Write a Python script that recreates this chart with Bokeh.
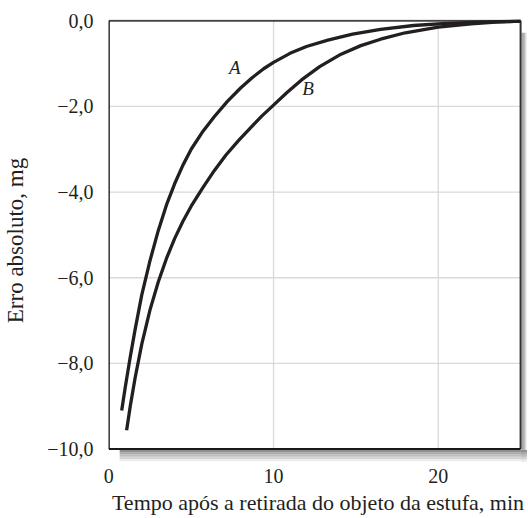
from bokeh.plotting import figure
from bokeh.models import Range1d, FixedTicker, Label
from bokeh.embed import file_html
from bokeh.resources import INLINE

# Curve A (time, absolute error)
time_a = [0.78, 1.0, 1.3, 1.6, 2.0, 2.5, 3.0, 3.5, 4.0, 4.5, 5.0, 5.66, 6.4, 7.2, 8.0,
          8.7, 9.4, 10.0, 11.0, 12.0, 13.3, 14.8, 16.5, 18.5, 20.5, 22.5, 25.0]
err_a = [-9.10, -8.55, -7.85, -7.2, -6.4, -5.6, -4.9, -4.3, -3.8, -3.37, -3.0, -2.61, -2.24,
         -1.88, -1.57, -1.33, -1.12, -0.97, -0.76, -0.60, -0.45, -0.31, -0.20, -0.11, -0.06,
         -0.03, -0.01]

# Curve B (time, absolute error)
time_b = [1.08, 1.3, 1.6, 2.0, 2.5, 3.0, 3.5, 4.0, 4.5, 5.0, 5.7, 6.4, 7.1, 7.87, 8.6, 9.3,
          10.0, 10.8, 11.7, 12.8, 14.1, 15.3, 16.5, 18.0, 20.0, 22.0, 23.5, 25.0]
err_b = [-9.56, -9.0, -8.33, -7.55, -6.75, -6.1, -5.55, -5.08, -4.68, -4.33, -3.9, -3.5, -3.14,
         -2.8, -2.5, -2.22, -1.97, -1.68, -1.38, -1.07, -0.78, -0.58, -0.43, -0.28, -0.15,
         -0.07, -0.03, -0.01]

x_ticks = [0, 10, 20]
x_tick_labels = ["0", "10", "20"]
y_ticks = [0, -2, -4, -6, -8, -10]
y_tick_labels = ["0,0", "\u22122,0", "\u22124,0", "\u22126,0", "\u22128,0", "\u221210,0"]
x_grid = [10, 20]
y_grid = [-2, -4, -6, -8]
x_lo, x_hi = 0, 25
y_lo, y_hi = -10, 0

x_title = "Tempo após a retirada do objeto da estufa, min"
y_title = "Erro absoluto, mg"
label_a = ("A", 7.65, -1.10)
label_b = ("B", 12.1, -1.59)

FONT = "Liberation Serif"
INK = "#231f20"

p = figure(width=527, height=518, x_range=Range1d(-0.02, 25.42), y_range=Range1d(-10.29, 0.03),
           output_backend="svg", toolbar_location=None,
           min_border_left=106, min_border_right=0, min_border_top=19, min_border_bottom=57)
p.outline_line_color = None
p.background_fill_color = "white"
p.border_fill_color = "white"
p.grid.visible = False

# grid lines inside frame
p.segment(x0=x_grid, x1=x_grid, y0=[y_lo] * len(x_grid), y1=[y_hi] * len(x_grid),
          line_color="#d9d9d9", line_width=1.3)
p.segment(x0=[x_lo] * len(y_grid), x1=[x_hi] * len(y_grid), y0=y_grid, y1=y_grid,
          line_color="#d9d9d9", line_width=1.3)

# drop shadow (right and bottom)
shade = ["#8f8f8f", "#a6a6a6", "#bdbdbd", "#d4d4d4", "#ebebeb"]
n = len(shade)
dx = (25.42 - 25.06) / n
for i, c in enumerate(shade):
    p.quad(left=x_hi + 0.06 + i * dx, right=x_hi + 0.06 + (i + 1) * dx,
           bottom=y_lo - 0.29, top=y_hi - 0.28, fill_color=c, line_color=None)
dy = 0.27 / n
for i, c in enumerate(shade):
    p.quad(left=x_lo + 0.66, right=x_hi + 0.42, top=y_lo - 0.02 - i * dy,
           bottom=y_lo - 0.02 - (i + 1) * dy, fill_color=c, line_color=None)

# frame
p.line([x_lo, x_hi], [y_hi, y_hi], line_color="#444444", line_width=2)
p.line([x_hi, x_hi], [y_hi, y_lo], line_color="#333333", line_width=2)
p.line([x_lo, x_hi], [y_lo, y_lo], line_color="#1a1a1a", line_width=2)
p.line([x_lo, x_lo], [y_lo, y_hi], line_color="#1a1a1a", line_width=2)

# curves
p.line(time_a, err_a, line_color=INK, line_width=3.3, line_join="round")
p.line(time_b, err_b, line_color=INK, line_width=3.3, line_join="round")

for txt, lx, ly in (label_a, label_b):
    p.add_layout(Label(x=lx, y=ly, text=txt, text_font=FONT, text_font_style="italic",
                       text_font_size="19px", text_color=INK, text_align="center",
                       text_baseline="middle"))

# axes
p.xaxis.ticker = FixedTicker(ticks=x_ticks)
p.xaxis.major_label_overrides = dict(zip(x_ticks, x_tick_labels))
p.yaxis.ticker = FixedTicker(ticks=y_ticks)
p.yaxis.major_label_overrides = dict(zip(y_ticks, y_tick_labels))
for ax in (p.xaxis, p.yaxis):
    ax.axis_line_color = None
    ax.major_tick_line_color = None
    ax.minor_tick_line_color = None
    ax.major_label_text_font = FONT
    ax.major_label_text_font_size = "20px"
    ax.major_label_text_color = INK
    ax.axis_label_text_font = FONT
    ax.axis_label_text_font_style = "normal"
    ax.axis_label_text_color = INK
p.xaxis.axis_label_text_font_size = "22px"
p.yaxis.axis_label_text_font_size = "23px"
p.xaxis.axis_label = x_title
p.yaxis.axis_label = y_title
p.xaxis.major_label_standoff = 1
p.xaxis.axis_label_standoff = 4
p.yaxis.major_label_standoff = 9
p.yaxis.axis_label_standoff = 16

open("out.html", "w").write(file_html(p, INLINE))
